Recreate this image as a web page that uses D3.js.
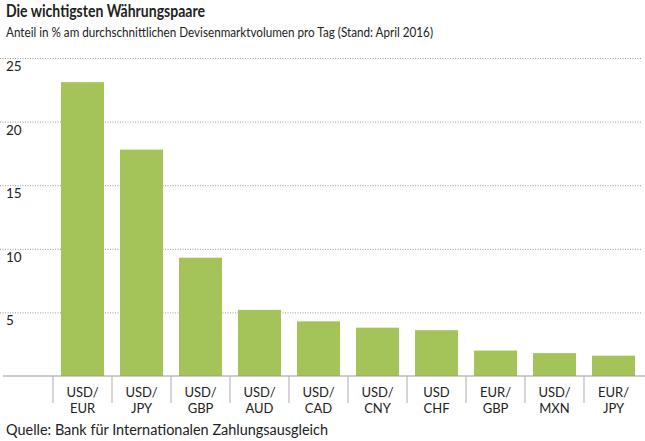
<!DOCTYPE html>
<html>
<head>
<meta charset="utf-8">
<script src="https://cdn.jsdelivr.net/npm/d3@7"></script>
<style>
  body { margin: 0; background: #fff; }
  svg text { font-family: Lato, "Open Sans", sans-serif; fill: #222; }
</style>
</head>
<body>
<div id="svgRoot"></div>
<script>
// currency pairs and their share (%) of daily FX turnover, April 2016
var pairsTop = ["USD/", "USD/", "USD/", "USD/", "USD/", "USD/", "USD", "EUR/", "USD/", "EUR/"];
var pairsBottom = ["EUR", "JPY", "GBP", "AUD", "CAD", "CNY", "CHF", "GBP", "MXN", "JPY"];
var shares = [23.1, 17.8, 9.3, 5.2, 4.3, 3.8, 3.6, 2.0, 1.8, 1.6];
var yTicks = [5, 10, 15, 20, 25];

var pairs = pairsTop.map(function (t, i) { return t + " " + pairsBottom[i]; });
var data = pairs.map(function (p, i) {
  return { pair: p, top: pairsTop[i], bottom: pairsBottom[i], value: shares[i] };
});

var W = 645, H = 441;
var svg = d3.select("#svgRoot").append("svg")
  .attr("width", W)
  .attr("height", H);

// title + subtitle (squeezed, the original face is narrower)
svg.append("text")
  .text("Die wichtigsten Währungspaare")
  .attr("x", 6).attr("y", 17)
  .attr("textLength", 199)
  .attr("lengthAdjust", "spacingAndGlyphs")
  .style("font-size", "16.5px")
  .style("font-weight", "bold");

svg.append("text")
  .text("Anteil in % am durchschnittlichen Devisenmarktvolumen pro Tag (Stand: April 2016)")
  .attr("x", 6).attr("y", 37)
  .attr("textLength", 427)
  .attr("lengthAdjust", "spacingAndGlyphs")
  .style("font-size", "14px");

// scales
var y = d3.scaleLinear().domain([0, 25]).range([376, 58]);

var x = d3.scaleBand()
  .domain(pairs)
  .range([53, 643])
  .paddingInner(0.271)
  .paddingOuter(0.1355);

// dotted gridlines, labels sit underneath each line
var grid = svg.append("g")
  .call(d3.axisLeft(y).tickValues(yTicks).tickSize(-641).tickFormat(""));
grid.select(".domain").remove();
grid.selectAll(".tick line")
  .attr("stroke", "#999")
  .attr("stroke-dasharray", "1,1.5")
  .attr("stroke-width", 1);

svg.selectAll("ylab")
  .data(yTicks)
  .enter()
  .append("text")
  .text(function (d) { return d; })
  .attr("x", 6)
  .attr("y", function (d) { return y(d) + 13; })
  .style("font-size", "13.5px");

// bars
svg.selectAll("bars")
  .data(data)
  .enter()
  .append("rect")
  .attr("x", function (d) { return x(d.pair); })
  .attr("width", x.bandwidth())
  .attr("y", function (d) { return y(d.value); })
  .attr("height", function (d) { return y(0) - y(d.value); })
  .attr("fill", "#a4c459");

// baseline
svg.append("line")
  .attr("x1", 3).attr("x2", 645)
  .attr("y1", y(0)).attr("y2", y(0))
  .attr("stroke", "#9a9a9a")
  .attr("stroke-width", 1.2);

// category separators + two-line labels
var half = x.step() * x.paddingInner() / 2;
svg.selectAll("sep")
  .data(pairs)
  .enter()
  .append("line")
  .attr("x1", function (d) { return x(d) - half; })
  .attr("x2", function (d) { return x(d) - half; })
  .attr("y1", y(0))
  .attr("y2", y(0) + 27)
  .attr("stroke", "#bbb")
  .attr("stroke-width", 1.2);

svg.selectAll("xlabTop")
  .data(data)
  .enter()
  .append("text")
  .attr("text-anchor", "middle")
  .attr("x", function (d) { return x(d.pair) + x.bandwidth() / 2; })
  .attr("y", y(0) + 21)
  .style("font-size", "13px")
  .text(function (d) { return d.top; });

svg.selectAll("xlabBottom")
  .data(data)
  .enter()
  .append("text")
  .attr("text-anchor", "middle")
  .attr("x", function (d) { return x(d.pair) + x.bandwidth() / 2; })
  .attr("y", y(0) + 37)
  .style("font-size", "13px")
  .text(function (d) { return d.bottom; });

// source
svg.append("text")
  .text("Quelle: Bank für Internationalen Zahlungsausgleich")
  .attr("x", 6).attr("y", 435)
  .attr("textLength", 322)
  .attr("lengthAdjust", "spacingAndGlyphs")
  .style("font-size", "14.5px");
</script>
</body>
</html>
